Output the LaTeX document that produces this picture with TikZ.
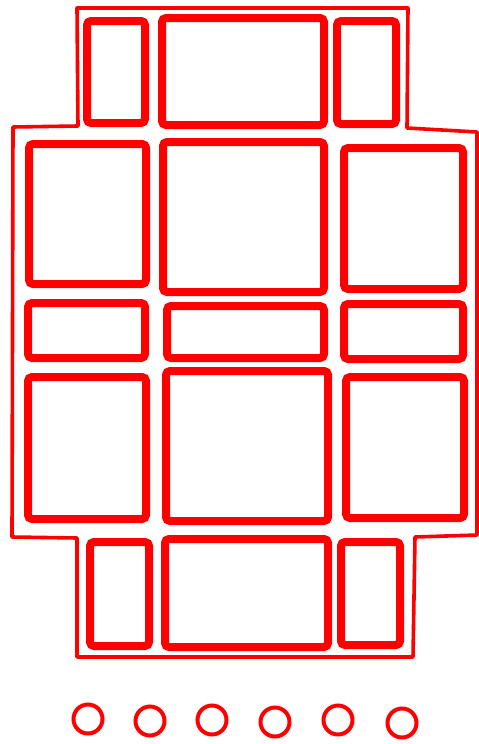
\documentclass[tikz,border=0pt]{standalone}
\begin{document}
\begin{tikzpicture}[x=1pt,y=-1pt,
  outline/.style={draw=red,line width=3.6pt,line join=round},
  cell/.style={draw=red,line width=8pt,rounded corners=4pt},
  hole/.style={draw=red,line width=4pt}]
\useasboundingbox[fill=white] (0,0) rectangle (479,744);
% outer outline
\draw[outline] (77,8) -- (408,8) -- (407,128) -- (477,132) -- (477,535) -- (415,537)
  -- (413,657) -- (77,657) -- (77,538) -- (12,537) -- (13,127) -- (78,126) -- cycle;
% row 1
\draw[cell] (87,21) rectangle (145,123);
\draw[cell] (162,18) rectangle (324,125);
\draw[cell] (337,21) rectangle (396,124);
% row 2
\draw[cell] (29,144) rectangle (146,284);
\draw[cell] (163,142) rectangle (324,292);
\draw[cell] (344,148) rectangle (463,289);
% row 3
\draw[cell] (28,303) rectangle (145,358);
\draw[cell] (167,306) rectangle (324,358);
\draw[cell] (344,304) rectangle (463,359);
% row 4
\draw[cell] (28,377) rectangle (146,519);
\draw[cell] (166,371) rectangle (328,521);
\draw[cell] (346,377) rectangle (464,518);
% row 5
\draw[cell] (90,542) rectangle (149,646);
\draw[cell] (165,539) rectangle (328,647);
\draw[cell] (341,542) rectangle (400,645);
% holes
\foreach \cx/\cy in {88/719,150/721,212/720,275/722,338/720,402/723}
  \draw[hole] (\cx,\cy) circle[radius=14.5pt];
\end{tikzpicture}
\end{document}
